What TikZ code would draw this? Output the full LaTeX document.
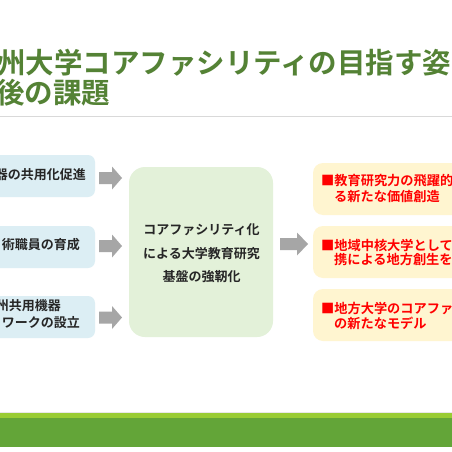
\documentclass[tikz,border=0pt]{standalone}
\usepackage{fontspec}
\setmainfont{Noto Sans CJK JP}[BoldFont={Noto Sans CJK JP Bold}]
\definecolor{titlegreen}{HTML}{548235}
\definecolor{lblue}{HTML}{DCEEF4}
\definecolor{lgreen}{HTML}{E3F1D9}
\definecolor{lyellow}{HTML}{FFF5D0}
\definecolor{arrowgray}{HTML}{A6A6A6}
\definecolor{rulegray}{HTML}{D9D9D9}
\definecolor{barlight}{HTML}{99CC33}
\definecolor{bardark}{HTML}{63A538}
\definecolor{txtred}{HTML}{FF0000}
\newcommand{\grayarrow}[4]{% x, y, total length, head length
  \fill[arrowgray] (#1,{#2-6}) -- ({#1+#3-#4},{#2-6}) -- ({#1+#3-#4},{#2-11.5})
    -- ({#1+#3},#2) -- ({#1+#3-#4},{#2+11.5}) -- ({#1+#3-#4},{#2+6}) -- (#1,{#2+6}) -- cycle;}
\begin{document}
\begin{tikzpicture}[x=1pt,y=-1pt,
  lbox/.style={fill=lblue, rounded corners=7pt, minimum width=115pt, minimum height=42pt, inner sep=0pt},
  cbox/.style={fill=lgreen, rounded corners=16pt, minimum width=144pt, minimum height=170pt, inner sep=0pt},
  rbox/.style={fill=lyellow, rounded corners=10pt, minimum width=187pt, minimum height=52pt, inner sep=0pt},
  title/.style={inner sep=0pt, anchor=west, text=titlegreen, font=\fontsize{28.5}{29}\selectfont\bfseries},
  ltxt/.style={inner sep=0pt, anchor=east, text=black!85, font=\fontsize{13}{15}\selectfont\bfseries},
  ctxt/.style={inner sep=0pt, text=black!85, font=\fontsize{13}{15}\selectfont\bfseries},
  rtxt/.style={inner sep=0pt, anchor=west, text=txtred, font=\fontsize{13.2}{15}\selectfont\bfseries}]
\useasboundingbox (0,0) rectangle (452,452);
\clip (0,0) rectangle (452,452);
\fill[white] (0,0) rectangle (452,452);
% title
\node[title] (t1) at (-3,63) {州大学コアファシリティの目指す姿};
\node[title] (t2) at (-4,92.5) {後の課題};
\draw[rulegray, line width=0.8pt] (0,116) -- (452,116);
% left boxes
\node[lbox] (l1) at (37.5,176) {};
\node[lbox] (l2) at (37.5,247) {};
\node[lbox] (l3) at (37.5,317) {};
\node[ltxt] (l1t) at (86,174.5) {器の共用化促進};
\node[ltxt] (l2t) at (80,245) {術職員の育成};
\node[ltxt] (l3a) at (61,306) {州共用機器};
\node[ltxt] (l3b) at (80,323) {ワークの設立};
% arrows
\grayarrow{99}{178}{23}{10}
\grayarrow{99}{246}{23}{10}
\grayarrow{99}{317.5}{23}{10}
\grayarrow{280}{244}{28}{11}
% center box
\node[cbox] (c) at (201,252) {};
\node[ctxt] (c1) at (201.5,230) {コアファシリティ化};
\node[ctxt] (c2) at (201.5,253.5) {による大学教育研究};
\node[ctxt] (c3) at (201.5,277) {基盤の強靭化};
% right boxes
\node[rbox] (r1) at (406.5,189) {};
\node[rbox] (r2) at (406.5,252) {};
\node[rbox] (r3) at (406.5,315) {};
\node[rtxt] (r1a) at (321,181) {■教育研究力の飛躍的};
\node[rtxt] (r1b) at (334,196) {る新たな価値創造};
\node[rtxt] (r2a) at (321,245) {■地域中核大学として};
\node[rtxt] (r2b) at (334,260) {携による地方創生を};
\node[rtxt] (r3a) at (321,308) {■地方大学のコアファ};
\node[rtxt] (r3b) at (334,323) {の新たなモデル};
% footer band
\fill[rulegray!60] (0,412) rectangle (452,413);
\fill[barlight] (0,413) rectangle (452,418);
\fill[bardark] (0,418) rectangle (452,447);
\end{tikzpicture}
\end{document}
